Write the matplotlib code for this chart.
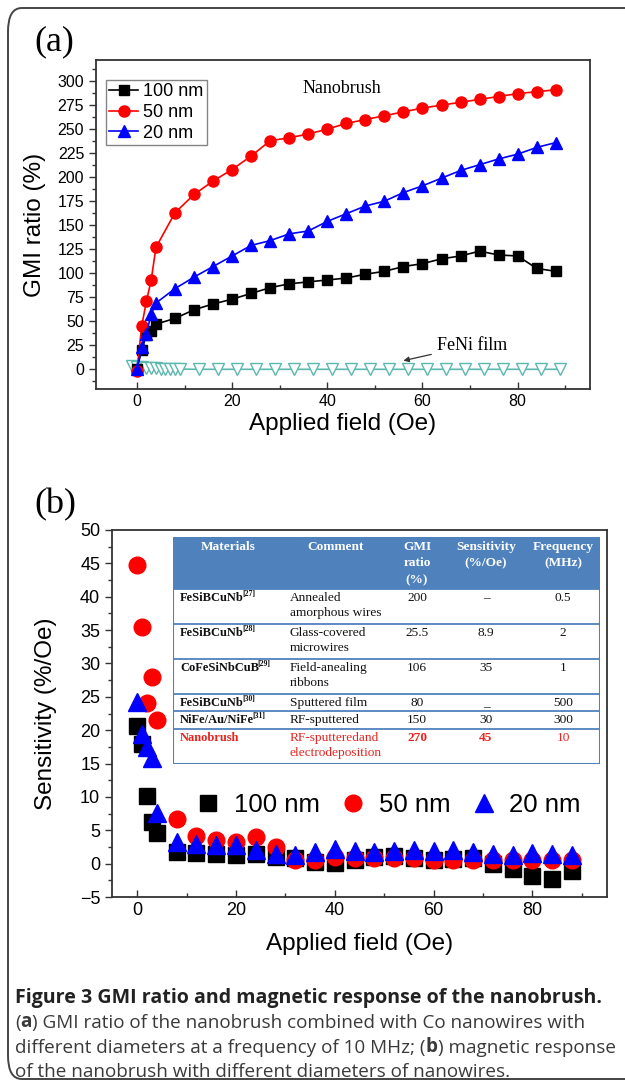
import numpy as np
import matplotlib
matplotlib.use("Agg")
import matplotlib.pyplot as plt
from matplotlib.patches import FancyBboxPatch, Rectangle
from matplotlib.ticker import MultipleLocator

plt.rcParams['font.family'] = ['Liberation Sans', 'DejaVu Sans']

# applied field values (Oe)
field = [0, 1, 2, 3, 4, 8, 12, 16, 20, 24, 28, 32, 36, 40, 44, 48, 52, 56, 60, 64, 68, 72, 76, 80, 84, 88]

# (a) GMI ratio (%)
gmi_100 = [0, 20, 36, 40, 47, 53, 62, 68, 73, 79, 85, 89, 91, 93, 95, 99, 102, 107, 110, 115, 118, 123, 119, 118, 105, 102]
gmi_50 = [-2, 45, 71, 93, 127, 163, 182, 196, 208, 222, 238, 241, 245, 250, 256, 260, 264, 268, 272, 275, 278, 281, 284, 287, 289, 291]
gmi_20 = [0, 23, 37, 58, 69, 84, 96, 107, 118, 129, 134, 141, 144, 154, 162, 170, 175, 184, 191, 199, 207, 213, 219, 224, 231, 236]
feni_field = [-1, 0, 1, 2, 3, 4, 5, 6, 7, 8, 9, 13, 17, 21, 25, 29, 33, 37, 41, 45, 49, 53, 57, 61, 65, 69, 73, 77, 81, 85, 89]
feni_gmi = [3, 2.5, 2, 1.5, 1.2, 1, 0.8, 0.6, 0.4, 0.3, 0.2, 0, 0, 0, 0, 0, 0, 0, 0, 0, 0, 0, 0, 0, 0, 0, 0, 0, 0, 0, 0]

# (b) sensitivity (%/Oe)
sens_100 = [20.7, 18.0, 10.1, 6.2, 4.6, 1.7, 1.6, 1.4, 1.3, 1.4, 1.0, 0.8, 0.3, 0.1, 0.5, 1.0, 1.1, 0.8, 0.6, 0.7, 0.8, -0.1, -0.8, -1.8, -2.3, -1.1]
sens_50 = [44.8, 35.5, 24.0, 28.0, 21.6, 6.7, 4.2, 3.5, 3.3, 4.0, 2.5, 0.5, 0.6, 1.0, 0.9, 0.8, 0.9, 0.8, 0.6, 0.5, 0.5, 0.6, 0.5, 0.6, 0.5, 0.5]
sens_20 = [24.2, 19.5, 17.5, 15.8, 7.6, 3.3, 3.0, 2.8, 2.8, 2.0, 1.5, 1.3, 1.8, 2.2, 1.9, 1.7, 1.9, 2.1, 1.9, 2.0, 1.8, 1.5, 1.3, 1.6, 1.5, 1.3]

labels = ['100 nm', '50 nm', '20 nm']

# comparison table
tab_header = ['Materials', 'Comment', 'GMI\nratio\n(%)', 'Sensitivity\n(%/Oe)', 'Frequency\n(MHz)']
tab_materials = ['FeSiBCuNb', 'FeSiBCuNb', 'CoFeSiNbCuB', 'FeSiBCuNb', 'NiFe/Au/NiFe', 'Nanobrush']
tab_refs = ['[27]', '[28]', '[29]', '[30]', '[31]', '']
tab_comment = ['Annealed\namorphous wires', 'Glass-covered\nmicrowires', 'Field-anealing\nribbons',
               'Sputtered film', 'RF-sputtered', 'RF-sputteredand\nelectrodeposition']
tab_gmi = ['200', '25.5', '106', '80', '150', '270']
tab_sens = ['\u2013', '8.9', '35', '_', '30', '45']
tab_freq = ['0.5', '2', '1', '500', '300', '10']

W, H = 625, 1083
fig = plt.figure(figsize=(W / 100, H / 100), dpi=100)


def fax(l, t, r, b):
    return fig.add_axes([l / W, 1 - b / H, (r - l) / W, (b - t) / H])


def style(ax):
    for s in ax.spines.values():
        s.set_linewidth(1.3)
        s.set_color('#333333')
    ax.tick_params(axis='x', which='both', direction='in', width=1, color='#333333')
    ax.tick_params(axis='y', which='both', direction='out', width=1, color='#333333')
    ax.tick_params(which='major', length=5)
    ax.tick_params(which='minor', length=3)


# outer frame
frame = FancyBboxPatch((8 / W, 1 - 1079 / H), 700 / W, 1071 / H,
                       boxstyle='round,pad=0,rounding_size=0.022', transform=fig.transFigure,
                       fill=False, edgecolor='#444444', linewidth=1.4)
fig.patches.append(frame)

# ---- panel (a)
ax1 = fax(96, 60, 590, 389)
style(ax1)
ax1.plot(feni_field, feni_gmi, '-v', color='#5cb8ae', mfc='white', mec='#5cb8ae', ms=9, lw=1.2, zorder=2)
ax1.plot(field, gmi_100, '-s', color='black', ms=7, lw=1.2, label=labels[0], zorder=3)
ax1.plot(field, gmi_50, '-o', color='red', ms=8, lw=1.2, label=labels[1], zorder=3)
ax1.plot(field, gmi_20, '-^', color='blue', ms=8.5, lw=1.2, label=labels[2], zorder=3)
ax1.set_xlim(-8.6, 95.2)
ax1.set_ylim(-20.5, 322)
ax1.xaxis.set_major_locator(MultipleLocator(20))
ax1.xaxis.set_minor_locator(MultipleLocator(10))
ax1.yaxis.set_major_locator(MultipleLocator(25))
ax1.yaxis.set_minor_locator(MultipleLocator(12.5))
ax1.tick_params(labelsize=11.5)
ax1.set_xlabel('Applied field (Oe)', fontsize=17.5, labelpad=3)
ax1.set_ylabel('GMI ratio (%)', fontsize=17.5, labelpad=8)
leg = ax1.legend(loc='upper left', bbox_to_anchor=(0.02, 0.94), fontsize=13, handlelength=1.6,
                 handletextpad=0.25, borderpad=0.2, labelspacing=0.2, fancybox=False,
                 edgecolor='#666666', borderaxespad=0)
leg.get_frame().set_linewidth(1.0)
ax1.text(43, 292, 'Nanobrush', family='Liberation Serif', fontsize=13, ha='center', va='center')
ax1.annotate('FeNi film', xy=(56, 9), xytext=(63, 25), family='Liberation Serif', fontsize=13,
             va='center', ha='left',
             arrowprops=dict(arrowstyle='-|>', color='#333333', lw=0.9, mutation_scale=8,
                             shrinkA=2, shrinkB=0))
fig.text(34 / W, 1 - 42 / H, '(a)', family='Liberation Serif', fontsize=26, va='center')

# ---- panel (b)
ax2 = fax(112, 530, 607, 897)
style(ax2)
ax2.plot(field, sens_100, 's', color='black', ms=11, ls='none', label=labels[0], zorder=3)
ax2.plot(field, sens_50, 'o', color='red', ms=12, ls='none', label=labels[1], zorder=3)
ax2.plot(field, sens_20, '^', color='blue', ms=12.5, ls='none', label=labels[2], zorder=4)
ax2.set_xlim(-5.1, 95.1)
ax2.set_ylim(-5, 50)
ax2.xaxis.set_major_locator(MultipleLocator(20))
ax2.xaxis.set_minor_locator(MultipleLocator(10))
ax2.yaxis.set_major_locator(MultipleLocator(5))
ax2.yaxis.set_minor_locator(MultipleLocator(2.5))
ax2.tick_params(labelsize=13)
ax2.set_xlabel('Applied field (Oe)', fontsize=17.5, labelpad=10)
ax2.set_ylabel('Sensitivity (%/Oe)', fontsize=17.5, labelpad=16)
ax2.legend(loc='center', bbox_to_anchor=(0.56, 0.25), ncol=3, frameon=False, fontsize=18.5,
           handlelength=0.8, handletextpad=0.6, columnspacing=0.9)
fig.text(34 / W, 1 - 505 / H, '(b)', family='Liberation Serif', fontsize=26, va='center')

# ---- inset table (pixel coordinates inside its own axes)
tl, tt, tr, tb = 173, 537, 600, 764
tab = fax(tl, tt, tr, tb)
tab.set_xlim(0, tr - tl)
tab.set_ylim(tb - tt, 0)
tab.axis('off')
blue = '#4f81bd'
row_edges = [52, 87, 122, 157, 174, 192, tb - tt]
tab.add_patch(Rectangle((0, 0), tr - tl, row_edges[0], facecolor=blue, edgecolor='none'))
tab.add_patch(Rectangle((0, 0), tr - tl, tb - tt, facecolor='white', edgecolor=blue, lw=1.5, zorder=0))
for yy in row_edges[:-1]:
    tab.plot([0, tr - tl], [yy, yy], color=blue, lw=1.3)
col_x = [55, 163, 244, 313, 390]
serif = 'Liberation Serif'
fs = 9.6
for cx, h in zip(col_x, tab_header):
    tab.text(cx, 4, h, ha='center', va='top', color='white', fontweight='bold', family=serif,
             fontsize=fs, linespacing=1.5)
for i in range(len(tab_materials)):
    top = row_edges[i] + 3
    red = tab_materials[i] == 'Nanobrush'
    c = '#e8231f' if red else '#111111'
    m = tab.text(7, top, tab_materials[i], ha='left', va='top', color=c, fontweight='bold',
                 family=serif, fontsize=9.0)
    if tab_refs[i]:
        tab.annotate(tab_refs[i], xy=(0.98, 0.5), xycoords=m, va='bottom', ha='left', color=c,
                     fontweight='bold', family=serif, fontsize=5.6)
    tab.text(117, top, tab_comment[i], ha='left', va='top', color=c, family=serif,
             fontsize=fs, linespacing=1.3)
    tab.text(col_x[2], top, tab_gmi[i], ha='center', va='top', color=c, family=serif, fontsize=fs,
             fontweight='bold' if red else 'normal')
    tab.text(col_x[3], top, tab_sens[i], ha='center', va='top', color=c, family=serif, fontsize=fs,
             fontweight='bold' if red else 'normal')
    tab.text(col_x[4], top, tab_freq[i], ha='center', va='top', color=c, family=serif, fontsize=fs)

# ---- caption
cap_font = 'Open Sans'
cap_size = 13.6
cap_color = '#3a3a3a'
fig.text(15 / W, 1 - 1003 / H, 'Figure 3 GMI ratio and magnetic response of the nanobrush.',
         family=cap_font, fontsize=14.1, fontweight='bold', color='#222222', va='baseline')


def rainbow(y, parts):
    last = None
    for s, w in parts:
        if last is None:
            last = fig.text(15 / W, 1 - y / H, s, fontweight=w, family=cap_font, fontsize=cap_size,
                            color=cap_color, va='baseline')
        else:
            last = ax2.annotate(s, xy=(1, 0), xycoords=last, va='bottom', fontweight=w,
                                family=cap_font, fontsize=cap_size, color=cap_color,
                                annotation_clip=False)


rainbow(1028, [('(', 'normal'), ('a', 'bold'), (') GMI ratio of the nanobrush combined with Co nanowires with', 'normal')])
rainbow(1053, [('different diameters at a frequency of 10 MHz; (', 'normal'), ('b', 'bold'), (') magnetic response', 'normal')])
rainbow(1077, [('of the nanobrush with different diameters of nanowires.', 'normal')])

fig.savefig('out.png', dpi=100)
